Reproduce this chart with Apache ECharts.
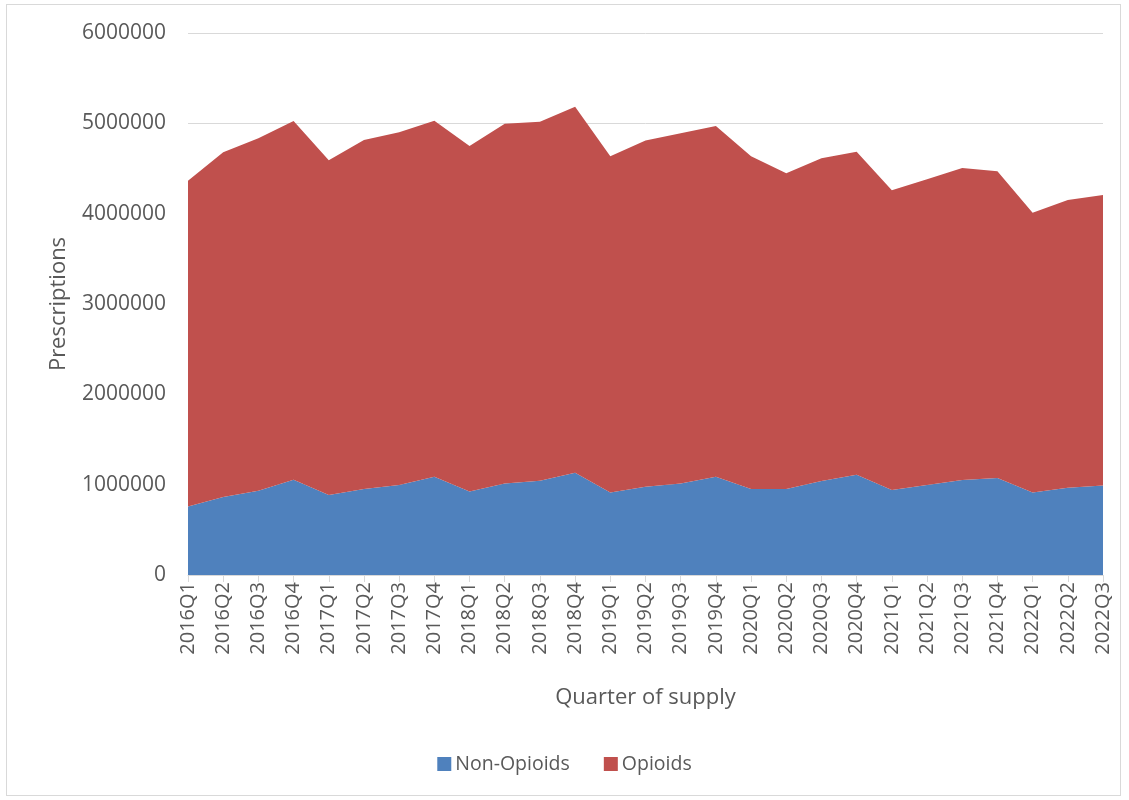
<!DOCTYPE html>
<html>
<head>
<meta charset="utf-8">
<script src="https://cdn.jsdelivr.net/npm/echarts@6/dist/echarts.min.js"></script>
<style>
html,body{margin:0;padding:0;background:#fff;}
#frame{position:absolute;left:6px;top:4px;width:1115px;height:792px;border:1px solid #d9d9d9;box-sizing:border-box;}
#chart{position:absolute;left:0;top:0;width:1129px;height:800px;}
</style>
</head>
<body>
<div id="frame"></div>
<div id="chart"></div>
<script>
const categories = ["2016Q1","2016Q2","2016Q3","2016Q4","2017Q1","2017Q2","2017Q3","2017Q4","2018Q1","2018Q2","2018Q3","2018Q4","2019Q1","2019Q2","2019Q3","2019Q4","2020Q1","2020Q2","2020Q3","2020Q4","2021Q1","2021Q2","2021Q3","2021Q4","2022Q1","2022Q2","2022Q3"];
const nonOpioids = [759000,863000,933000,1054000,885000,951000,996000,1087000,925000,1013000,1043000,1132000,914000,976000,1013000,1087000,951000,951000,1040000,1110000,940000,996000,1051000,1073000,914000,966000,991000];
const opioids = [3606000,3816000,3901000,3971000,3705000,3864000,3904000,3942000,3824000,3983000,3975000,4052000,3721000,3835000,3877000,3883000,3684000,3496000,3573000,3576000,3319000,3384000,3454000,3396000,3097000,3186000,3216000];
const yTicks = [0,1000000,2000000,3000000,4000000,5000000,6000000];

const FONT = "'Open Sans', 'Liberation Sans', sans-serif";
const chart = echarts.init(document.getElementById('chart'), null, {renderer:'canvas'});
chart.setOption({
  animation:false,
  backgroundColor:'transparent',
  grid:{left:188,right:26,top:33,bottom:225},
  legend:{
    bottom:21,left:'center',
    itemWidth:14,itemHeight:14,itemGap:34,
    icon:'rect',
    textStyle:{fontFamily:FONT,fontSize:19.5,color:'#595959',padding:[0,0,0,-1]},
    data:['Non-Opioids','Opioids']
  },
  xAxis:{
    type:'category',
    data:categories,
    boundaryGap:false,
    name:'Quarter of supply',
    nameLocation:'middle',
    nameGap:112,
    nameTextStyle:{fontFamily:FONT,fontSize:22,color:'#595959'},
    axisLine:{lineStyle:{color:'#d9d9d9',width:1}},
    axisTick:{show:true,alignWithLabel:true,length:7,lineStyle:{color:'#d9d9d9'}},
    axisLabel:{rotate:90,fontFamily:FONT,fontSize:20,color:'#595959',margin:7,interval:0}
  },
  yAxis:{
    type:'value',
    min:yTicks[0],max:yTicks[yTicks.length-1],interval:1000000,
    name:'Prescriptions',
    nameLocation:'middle',
    nameGap:118,
    nameTextStyle:{fontFamily:FONT,fontSize:22,color:'#595959'},
    axisLine:{show:false},
    axisTick:{show:false},
    splitLine:{lineStyle:{color:'#d9d9d9',width:1}},
    axisLabel:{fontFamily:FONT,fontSize:21,color:'#595959',margin:22,formatter:v=>String(v)}
  },
  series:[
    {name:'Non-Opioids',type:'line',stack:'total',data:nonOpioids,symbol:'none',
     lineStyle:{width:0},areaStyle:{color:'#4F81BD',opacity:1},itemStyle:{color:'#4F81BD'}},
    {name:'Opioids',type:'line',stack:'total',data:opioids,symbol:'none',
     lineStyle:{width:0},areaStyle:{color:'#C0504D',opacity:1},itemStyle:{color:'#C0504D'}}
  ]
});
</script>
</body>
</html>
